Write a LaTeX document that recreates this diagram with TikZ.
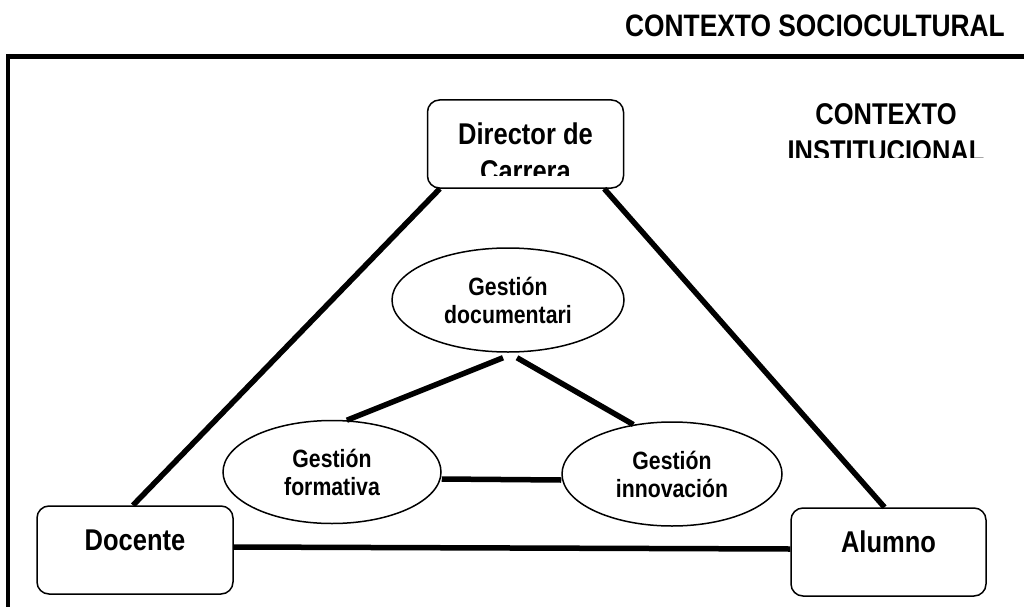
\documentclass[tikz,border=0pt]{standalone}
\usepackage{fontspec}
\setmainfont{Liberation Sans}[FakeStretch=0.85]
\usetikzlibrary{shapes.geometric}

\tikzset{
  titulo/.style={font=\fontsize{30}{37}\selectfont\bfseries, inner sep=0pt},
  caja/.style={draw, line width=1.5pt, rounded corners=12pt, minimum width=196pt, minimum height=88pt, inner sep=0pt, font=\fontsize{30}{37}\selectfont\bfseries, text height=22pt, text depth=22pt},
  gestion/.style={draw, ellipse, line width=1.5pt, inner sep=0pt, align=center, font=\fontsize{25}{28}\selectfont\bfseries},
  enlace/.style={line width=5.5pt}
}

\begin{document}
\begin{tikzpicture}[x=1pt,y=-1pt]
\useasboundingbox (0,0) rectangle (1024,607);
\fill [white] (0,0) rectangle (1024,607);

\node [titulo, font=\fontsize{31}{37}\selectfont\bfseries, anchor=base east] (socio) at (1005,37) {CONTEXTO SOCIOCULTURAL};
\draw [line width=4pt] (8,54) -- (8,607);
\draw [line width=5pt] (8,57) -- (1024,57);

\begin{scope}
\clip (700,80) rectangle (1020,157);
\node [titulo, align=center, anchor=base] (inst) at (886,161) {CONTEXTO\\INSTITUCIONAL};
\end{scope}

\node [caja] (dir) at (525.5,144) {};
\begin{scope}
\clip (428,100) rectangle (623,175);
\node [titulo, align=center, anchor=base] (dirtxt) at (525.5,181) {Director de\\Carrera};
\end{scope}
\node [caja] (doc) at (135,550) {Docente};
\node [caja, minimum width=195pt] (alu) at (888.5,552) {Alumno};

\node [gestion, minimum width=232pt, minimum height=104pt] (gdoc) at (508,300) {Gestión\\documentari};
\node [gestion, minimum width=218pt, minimum height=103pt] (gfor) at (332,472) {Gestión\\formativa};
\node [gestion, minimum width=220pt, minimum height=104pt] (ginn) at (672,474) {Gestión\\innovación};

\draw [enlace] ([xshift=13pt]dir.south west) -- ([xshift=-2pt]doc.north);
\draw [enlace] ([xshift=-20pt]dir.south east) -- ([xshift=-4pt]alu.north);
\draw [enlace] ([yshift=3pt]doc.east) -- ([yshift=3pt]alu.west);
\draw [enlace] ([shift={(-5pt,-5pt)}]gdoc.south) -- (gfor.74);
\draw [enlace] ([shift={(9pt,-5pt)}]gdoc.south) -- (ginn.128);
\draw [enlace] ([yshift=-7pt]gfor.east) -- ([yshift=-6pt]ginn.west);

\end{tikzpicture}
\end{document}
